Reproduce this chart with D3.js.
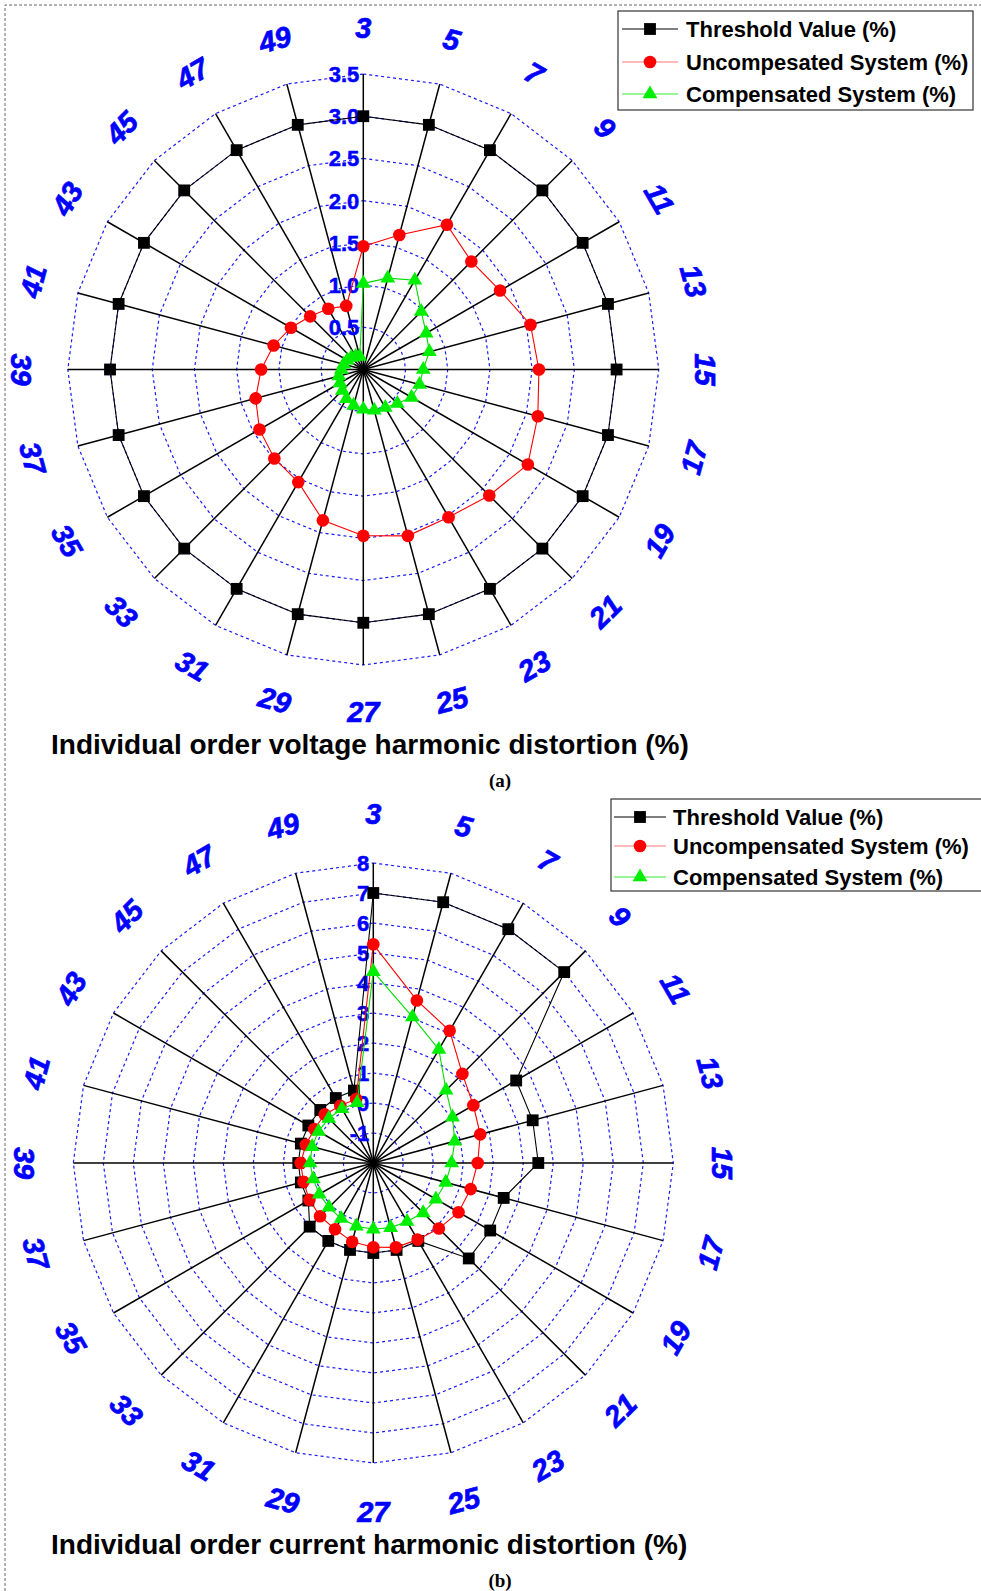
<!DOCTYPE html>
<html>
<head>
<meta charset="utf-8">
<script src="https://cdn.jsdelivr.net/npm/d3@7"></script>
<style>
  body { margin: 0; background: #fff; }
  svg { display: block; font-family: "Liberation Sans", Arial, sans-serif; }
</style>
</head>
<body>
<div id="chart"></div>
<script>
// Harmonic orders (angular categories)
const harmonics = [3, 5, 7, 9, 11, 13, 15, 17, 19, 21, 23, 25, 27, 29, 31, 33, 35, 37, 39, 41, 43, 45, 47, 49];

// (a) voltage harmonic distortion (%)
const voltThreshold = [3, 3, 3, 3, 3, 3, 3, 3, 3, 3, 3, 3, 3, 3, 3, 3, 3, 3, 3, 3, 3, 3, 3, 3];
const voltUncomp = [1.46, 1.65, 1.98, 1.81, 1.87, 2.05, 2.08, 2.14, 2.25, 2.11, 2.02, 2.04, 1.97, 1.85, 1.54, 1.49, 1.42, 1.32, 1.21, 1.10, 0.99, 0.89, 0.83, 0.78];
const voltComp = [1.02, 1.12, 1.22, 0.97, 0.86, 0.81, 0.71, 0.69, 0.66, 0.57, 0.52, 0.50, 0.47, 0.44, 0.40, 0.35, 0.32, 0.30, 0.26, 0.24, 0.22, 0.20, 0.18, 0.16];
const voltTicks = [0.5, 1.0, 1.5, 2.0, 2.5, 3.0, 3.5];

// (b) current harmonic distortion (%)
const currThreshold = [7, 7, 7, 7, 3.5, 3.5, 3.5, 2.5, 2.5, 2.5, 1, 1, 1, 1, 1, 1, 0.5, 0.5, 0.5, 0.5, 0.5, 0.5, 0.5, 0.5];
const currUncomp = [5.29, 3.61, 3.09, 2.2, 1.85, 1.69, 1.48, 1.36, 1.28, 1.09, 0.95, 0.91, 0.81, 0.72, 0.55, 0.51, 0.46, 0.41, 0.42, 0.33, 0.27, 0.29, 0.2, 0.21];
const currComp = [4.38, 3.04, 2.37, 1.43, 1.05, 0.81, 0.61, 0.5, 0.41, 0.35, 0.25, 0.23, 0.21, 0.18, 0.14, 0.09, 0.08, 0.07, 0.11, 0.11, 0.11, 0.1, 0.09, 0.08];
const currTicks = [-1, 0, 1, 2, 3, 4, 5, 6, 7, 8];

const width = 981, height = 1591;
const svg = d3.select("#chart").append("svg")
  .attr("width", width)
  .attr("height", height);

// dashed page frame
svg.append("path")
  .attr("d", `M5,${height} L5,5 L${width},5`)
  .attr("fill", "none")
  .attr("stroke", "#666")
  .attr("stroke-width", 1)
  .attr("stroke-dasharray", "3,2");

const angle = d3.scalePoint()
  .domain(harmonics)
  .range([0, 2 * Math.PI * (harmonics.length - 1) / harmonics.length]);

const buildRadar = (opt) => {
  const { cx, cy, radius, domain, ticks, threshold, uncomp, comp, labelR, tickFmt, legend, title, caption } = opt;
  const r = d3.scaleLinear().domain(domain).range([0, radius]);
  const g = svg.append("g").attr("transform", `translate(${cx},${cy})`);

  // grid rings (polygons)
  ticks.forEach(t => {
    g.append("path")
      .attr("d", d3.lineRadial().angle(d => angle(d)).radius(r(t)).curve(d3.curveLinearClosed)(harmonics))
      .attr("fill", "none")
      .attr("stroke", "#1a1aff")
      .attr("stroke-width", 1.2)
      .attr("stroke-dasharray", "3,3");
  });

  // spokes
  g.selectAll(".spoke")
    .data(harmonics)
    .join("line")
    .attr("class", "spoke")
    .attr("x1", 0).attr("y1", 0)
    .attr("x2", d => Math.sin(angle(d)) * radius)
    .attr("y2", d => -Math.cos(angle(d)) * radius)
    .attr("stroke", "#000")
    .attr("stroke-width", 1.5);

  // radial tick labels
  g.selectAll(".rtick")
    .data(ticks)
    .join("text")
    .attr("class", "rtick")
    .attr("x", -4)
    .attr("y", d => -r(d))
    .attr("dy", "0.36em")
    .attr("text-anchor", "end")
    .attr("fill", "#0000ff")
    .attr("stroke", "#0000ff")
    .attr("stroke-width", 0.5)
    .attr("font-weight", "bold")
    .attr("font-size", 22)
    .text(tickFmt);

  // angular labels
  g.selectAll(".alabel")
    .data(harmonics)
    .join("text")
    .attr("class", "alabel")
    .attr("transform", d => {
      const a = angle(d) * 180 / Math.PI;
      const x = Math.sin(angle(d)) * labelR, y = -Math.cos(angle(d)) * labelR;
      let rot = a <= 90 ? a : (a < 270 ? a - 180 : (a === 270 ? 90 : a - 360));
      return `translate(${x},${y}) rotate(${rot})`;
    })
    .attr("text-anchor", "middle")
    .attr("dy", "0.36em")
    .attr("fill", "#0000ff")
    .attr("stroke", "#0000ff")
    .attr("stroke-width", 0.7)
    .attr("font-weight", "bold")
    .attr("font-style", "italic")
    .attr("font-size", 29)
    .text(d => d);

  // series
  const series = [
    { values: threshold, color: "#000", line: "#000", symbol: d3.symbolSquare, size: 140 },
    { values: uncomp, color: "#ff0000", line: "#ff0000", symbol: d3.symbolCircle, size: 125 },
    { values: comp, color: "#00ee00", line: "#00dd00", symbol: d3.symbolTriangle, size: 95 }
  ];
  series.forEach(s => {
    const pts = harmonics.map((h, i) => ({ h, v: s.values[i] }));
    g.append("path")
      .attr("d", d3.lineRadial().angle(d => angle(d.h)).radius(d => r(d.v)).curve(d3.curveLinearClosed)(pts))
      .attr("fill", "none")
      .attr("stroke", s.line)
      .attr("stroke-width", 1.1);
    g.selectAll(null)
      .data(pts)
      .join("path")
      .attr("transform", d => `translate(${Math.sin(angle(d.h)) * r(d.v)},${-Math.cos(angle(d.h)) * r(d.v)})`)
      .attr("d", d3.symbol().type(s.symbol).size(s.size))
      .attr("fill", s.color);
  });

  // legend
  const lg = svg.append("g").attr("transform", `translate(${legend.x},${legend.y})`);
  lg.append("rect")
    .attr("width", legend.w).attr("height", legend.h)
    .attr("fill", "#fff").attr("stroke", "#333").attr("stroke-width", 1.2);
  legend.labels.forEach((txt, i) => {
    const s = series[i];
    const y = legend.rows[i];
    lg.append("line")
      .attr("x1", legend.l1).attr("x2", legend.l2)
      .attr("y1", y).attr("y2", y)
      .attr("stroke", i === 0 ? "#000" : (i === 1 ? "#ff7777" : "#33ee33"))
      .attr("stroke-width", 1.2);
    lg.append("path")
      .attr("transform", `translate(${(legend.l1 + legend.l2) / 2},${y})`)
      .attr("d", d3.symbol().type(s.symbol).size(s.size))
      .attr("fill", s.color);
    lg.append("text")
      .attr("x", legend.tx).attr("y", y)
      .attr("dy", "0.36em")
      .attr("font-weight", "bold")
      .attr("font-size", 22)
      .text(txt);
  });

  svg.append("text")
    .attr("x", title.x).attr("y", title.y)
    .attr("dy", "0.36em")
    .attr("font-weight", "bold")
    .attr("font-size", 28)
    .text(title.text);

  svg.append("text")
    .attr("x", caption.x).attr("y", caption.y)
    .attr("dy", "0.36em")
    .attr("text-anchor", "middle")
    .attr("font-family", "Liberation Serif, Times New Roman, serif")
    .attr("font-weight", "bold")
    .attr("font-size", 19)
    .text(caption.text);
};

buildRadar({
  cx: 363.3, cy: 369.5, radius: 295.5, domain: [0, 3.5], ticks: voltTicks,
  threshold: voltThreshold, uncomp: voltUncomp, comp: voltComp, labelR: 342,
  tickFmt: d3.format(".1f"),
  legend: { x: 618, y: 11, w: 355, h: 99, l1: 4, l2: 60, tx: 68, rows: [18, 51, 83],
    labels: ["Threshold Value (%)", "Uncompesated System (%)", "Compensated System (%)"] },
  title: { x: 51, y: 744, text: "Individual order voltage harmonic distortion (%)" },
  caption: { x: 500, y: 780, text: "(a)" }
});

buildRadar({
  cx: 373.3, cy: 1163, radius: 300, domain: [-2, 8], ticks: currTicks,
  threshold: currThreshold, uncomp: currUncomp, comp: currComp, labelR: 349,
  tickFmt: d => String(d),
  legend: { x: 611, y: 799, w: 380, h: 92, l1: 3, l2: 55, tx: 62, rows: [18, 47, 78],
    labels: ["Threshold Value (%)", "Uncompensated System (%)", "Compensated System (%)"] },
  title: { x: 51, y: 1544, text: "Individual order current harmonic distortion (%)" },
  caption: { x: 500, y: 1580, text: "(b)" }
});
</script>
</body>
</html>
